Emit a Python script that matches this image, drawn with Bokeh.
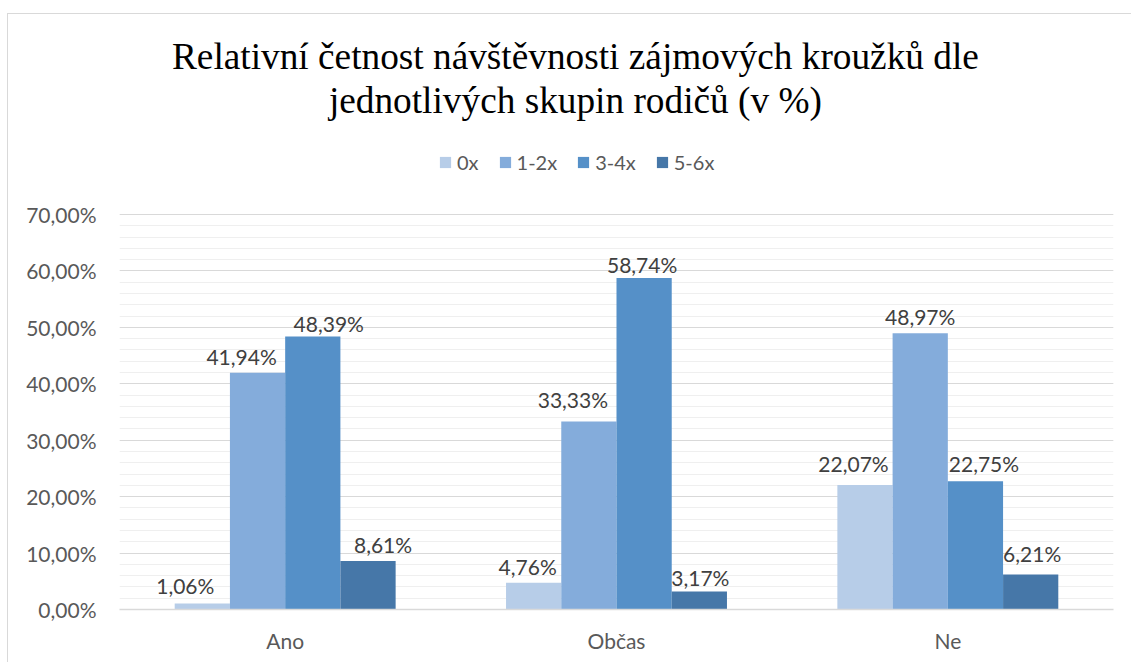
from bokeh.plotting import figure
from bokeh.models import (ColumnDataSource, FactorRange, Range1d, FixedTicker,
                          Legend, LegendItem, Label)
from bokeh.transform import dodge
from bokeh.core.properties import value
from bokeh.embed import file_html
from bokeh.resources import INLINE

# ---------------- data ----------------
categories = ["Ano", "Občas", "Ne"]
series_names = ["0x", "1-2x", "3-4x", "5-6x"]
vals_0x = [1.06, 4.76, 22.07]
vals_1_2x = [41.94, 33.33, 48.97]
vals_3_4x = [48.39, 58.74, 22.75]
vals_5_6x = [8.61, 3.17, 6.21]
series_colors = ["#b7cde8", "#84acdb", "#5590c8", "#4677a8"]
y_ticks = [0, 10, 20, 30, 40, 50, 60, 70]
y_tick_labels = ["0,00%", "10,00%", "20,00%", "30,00%", "40,00%", "50,00%", "60,00%", "70,00%"]
title_lines = ["Relativní četnost návštěvnosti zájmových kroužků dle",
               "jednotlivých skupin rodičů (v %)"]

series_values = [vals_0x, vals_1_2x, vals_3_4x, vals_5_6x]

# data-label placement nudges (px), as in the reference (labels were moved by hand)
label_dx = [[-17, -6, -11.5], [-16, -16, 0], [16, -2, 8.5], [15, 1, 1.5]]
label_dy = [[18.5, 16, 21.5], [16.3, 22, 16.7], [13.4, 13.5, 17.6], [16.4, 14, 21]]

def fmt(v):
    return f"{v:.2f}".replace(".", ",") + "%"

# layout constants
PX_PER_UNIT = 395 / 70.0          # 70 % spans 395 px
FRAME_H = 595
Y_TOP = FRAME_H / PX_PER_UNIT     # extra room above 70 % for title & legend

# ---------------- figure ----------------
p = figure(x_range=FactorRange(*categories, range_padding=0),
           y_range=Range1d(0, Y_TOP),
           frame_width=994, frame_height=FRAME_H,
           min_border_left=111, min_border_right=18,
           min_border_top=0, min_border_bottom=53,
           title=None, toolbar_location=None, output_backend="svg")
p.outline_line_color = None
p.background_fill_color = "white"
p.border_fill_color = "white"
p.styles = {"margin-left": "7px", "margin-top": "13px",
            "border-left": "1px solid #d9d9d9", "border-top": "1px solid #d9d9d9"}

bar_w = 0.1667
offsets = [-1.5 * bar_w, -0.5 * bar_w, 0.5 * bar_w, 1.5 * bar_w]

items = []
for name, vals, col, off, dxs, dys in zip(series_names, series_values, series_colors,
                                           offsets, label_dx, label_dy):
    src = ColumnDataSource(dict(cat=categories, v=vals, lbl=[fmt(v) for v in vals],
                                dx=dxs, dy=[-d for d in dys]))
    r = p.vbar(x=dodge("cat", off, range=p.x_range), top="v", width=bar_w,
               source=src, fill_color=col, line_color=None)
    p.text(x=dodge("cat", off, range=p.x_range), y="v", text="lbl", source=src,
           x_offset="dx", y_offset="dy",
           text_align="center", text_baseline="middle",
           text_font=value("Lato"), text_font_size="21px", text_color="#404040")
    items.append(LegendItem(label=name, renderers=[r]))

# axes
p.yaxis.ticker = FixedTicker(ticks=y_ticks, minor_ticks=list(range(0, 71, 2)))
p.yaxis.major_label_overrides = {t: l for t, l in zip(y_ticks, y_tick_labels)}
p.yaxis.axis_line_color = None
p.yaxis.major_tick_line_color = None
p.yaxis.minor_tick_line_color = None
p.yaxis.major_label_standoff = 17
p.yaxis.major_label_text_font = "Lato"
p.yaxis.major_label_text_font_size = "21px"
p.yaxis.major_label_text_color = "#595959"

p.xaxis.axis_line_color = "#d9d9d9"
p.xaxis.axis_line_width = 1.5
p.xaxis.major_tick_line_color = None
p.xaxis.minor_tick_line_color = None
p.xaxis.major_label_standoff = 12
p.xaxis.major_label_text_font = "Lato"
p.xaxis.major_label_text_font_size = "21px"
p.xaxis.major_label_text_color = "#595959"

p.xgrid.visible = False
p.ygrid.grid_line_color = "#d9d9d9"
p.ygrid.minor_grid_line_color = "#efefef"

# legend (above the 70 % line, inside the frame)
legend = Legend(items=items, orientation="horizontal", location=(319, 435),
                glyph_width=14, glyph_height=14, label_standoff=5, spacing=19,
                padding=0, margin=0, border_line_color=None, background_fill_alpha=0,
                label_text_font="Lato", label_text_font_size="20px",
                label_text_color="#595959")
p.add_layout(legend)

# title (two centred lines)
for txt, yy in zip(title_lines, [98.0, 90.2]):
    p.add_layout(Label(x=1.376, y=yy, text=txt, text_align="center",
                       text_baseline="alphabetic", text_font="Liberation Serif",
                       text_font_size="37.3px", text_color="black"))

open("out.html", "w").write(file_html(p, INLINE))
